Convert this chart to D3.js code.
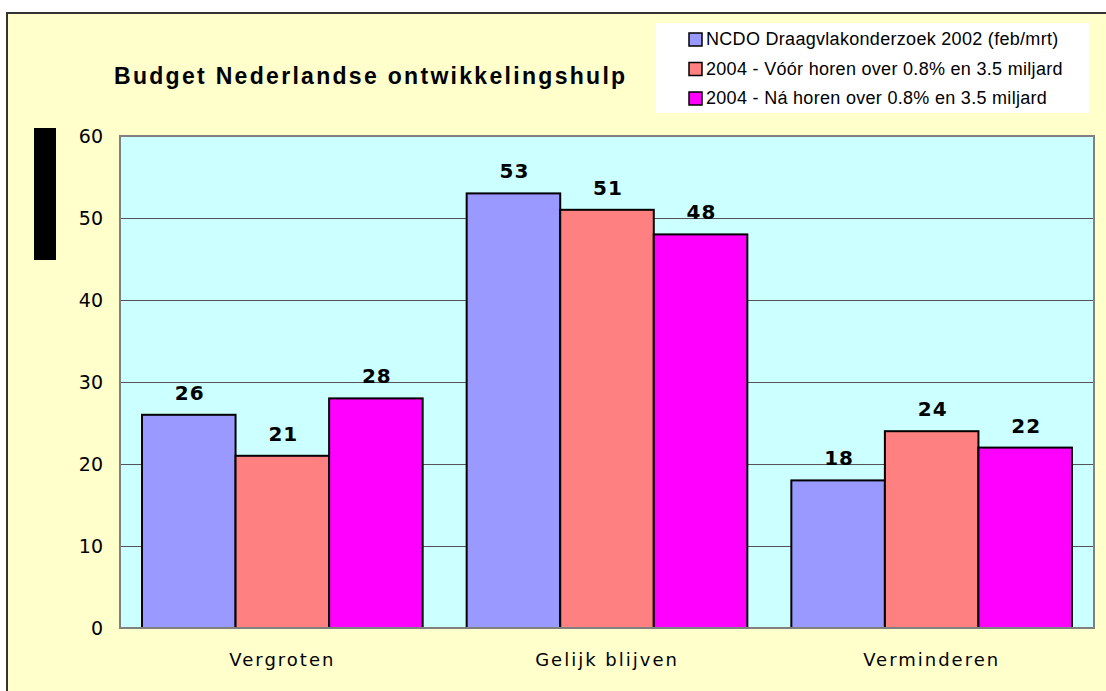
<!DOCTYPE html>
<html>
<head>
<meta charset="utf-8">
<script src="https://cdn.jsdelivr.net/npm/d3@7"></script>
<style>
  body { margin: 0; background: #fff; }
  svg { display: block; }
</style>
</head>
<body>
<div id="plot"></div>
<script>
/* data */
var categories = ['Vergroten', 'Gelijk blijven', 'Verminderen'];
var seriesNames = [
    'NCDO Draagvlakonderzoek 2002 (feb/mrt)',
    '2004 - V\u00f3\u00f3r horen over 0.8% en 3.5 miljard',
    '2004 - N\u00e1 horen over 0.8% en 3.5 miljard'
];
var ncdo2002 = [26, 53, 18];
var voor2004 = [21, 51, 24];
var na2004 = [28, 48, 22];
var yTicks = [0, 10, 20, 30, 40, 50, 60];
var colors = ['#9999ff', '#ff8080', '#ff00ff'];

var W = 1106, H = 691;
var margin = {t:136, r:12, b:63, l:120};
var width = W - margin.l - margin.r,
    height = H - margin.t - margin.b;

var svg = d3.select('#plot')
    .append('svg')
    .attr('width', W)
    .attr('height', H);

// outer frame
svg.append('rect').attr('x', 7).attr('y', 13).attr('width', W).attr('height', H)
    .attr('fill', '#ffffcc').attr('stroke', '#333').attr('stroke-width', 2);

// title
svg.append('text')
    .attr('x', 114).attr('y', 84)
    .attr('font-family', 'Liberation Sans, Arial, sans-serif')
    .attr('font-weight', 'bold')
    .attr('font-size', 23)
    .attr('letter-spacing', 2.3)
    .text('Budget Nederlandse ontwikkelingshulp');

// black block where the axis title was
svg.append('rect').attr('x', 34).attr('y', 128).attr('width', 22).attr('height', 132).attr('fill', '#000');

var plot = svg.append('g')
    .attr('transform', 'translate(' + margin.l + ',' + margin.t + ')');

var x0 = d3.scaleBand().domain(categories).range([0, width]).paddingInner(0).paddingOuter(0);
var x1 = d3.scaleBand().domain(d3.range(3)).range([22, x0.bandwidth() - 22]);
var y = d3.scaleLinear().domain([0, 60]).range([height, 0]);

plot.append('rect').attr('width', width).attr('height', height).attr('fill', '#ccffff');

plot.selectAll('.grid')
    .data(yTicks.slice(1, -1))
    .enter().append('line')
    .attr('class', 'grid')
    .attr('x1', 0).attr('x2', width)
    .attr('y1', function(d){ return y(d) + 0.5; })
    .attr('y2', function(d){ return y(d) + 0.5; })
    .attr('stroke', '#555').attr('stroke-width', 1);

var rows = categories.map(function(c, i) {
    return {cat: c, vals: [ncdo2002[i], voor2004[i], na2004[i]]};
});

var groups = plot.selectAll('.group')
    .data(rows)
    .enter().append('g')
    .attr('class', 'group')
    .attr('transform', function(d){ return 'translate(' + x0(d.cat) + ',0)'; });

var bars = groups.selectAll('.bar')
    .data(function(d){ return d.vals.map(function(v, k){ return {k: k, v: v}; }); })
    .enter();

bars.append('rect')
    .attr('x', function(d){ return x1(d.k); })
    .attr('y', function(d){ return y(d.v); })
    .attr('width', x1.bandwidth())
    .attr('height', function(d){ return height - y(d.v); })
    .attr('fill', function(d){ return colors[d.k]; })
    .attr('stroke', '#000').attr('stroke-width', 2);

bars.append('text')
    .attr('x', function(d){ return x1(d.k) + x1.bandwidth() / 2 + 1; })
    .attr('y', function(d){ return y(d.v) - 15; })
    .attr('text-anchor', 'middle')
    .attr('font-family', 'DejaVu Sans, Verdana, sans-serif')
    .attr('font-weight', 'bold')
    .attr('font-size', 20)
    .attr('letter-spacing', 1)
    .text(function(d){ return d.v; });

// plot border
plot.append('rect').attr('width', width).attr('height', height)
    .attr('fill', 'none').attr('stroke', '#808080').attr('stroke-width', 2);

// y axis labels
var yAxis = d3.axisLeft(y).tickValues(yTicks).tickSize(0).tickPadding(17);
plot.append('g').call(yAxis)
    .call(function(g){ g.select('.domain').remove(); })
    .selectAll('text')
    .attr('font-family', 'DejaVu Sans, Verdana, sans-serif')
    .attr('font-size', 19)
    .attr('fill', '#000');

// x axis labels
var xAxis = d3.axisBottom(x0).tickSize(0).tickPadding(25);
plot.append('g').attr('transform', 'translate(0,' + height + ')').call(xAxis)
    .call(function(g){ g.select('.domain').remove(); })
    .selectAll('text')
    .attr('font-family', 'DejaVu Sans, Verdana, sans-serif')
    .attr('font-size', 18)
    .attr('letter-spacing', 2)
    .attr('fill', '#000');

// legend
var legend = svg.append('g').attr('transform', 'translate(656,23)');
legend.append('rect').attr('width', 433).attr('height', 90).attr('fill', '#fff');
var items = legend.selectAll('.item')
    .data(seriesNames)
    .enter().append('g')
    .attr('class', 'item')
    .attr('transform', function(d, i){ return 'translate(33,' + (22 + i * 29.5) + ')'; });
items.append('rect')
    .attr('x', 0).attr('y', -12).attr('width', 13).attr('height', 13)
    .attr('fill', function(d, i){ return colors[i]; })
    .attr('stroke', '#000').attr('stroke-width', 1.5);
items.append('text')
    .attr('x', 17).attr('y', 0)
    .attr('font-family', 'Liberation Sans, Arial, sans-serif')
    .attr('font-size', 18)
    .attr('letter-spacing', 0.3)
    .text(function(d){ return d; });
</script>
</body>
</html>
